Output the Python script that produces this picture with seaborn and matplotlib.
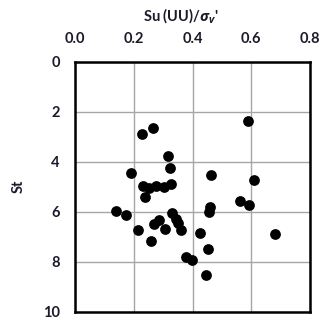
import matplotlib
matplotlib.use("Agg")
import matplotlib.pyplot as plt
import seaborn as sns
import pandas as pd

# Su(UU)/sigma_v' vs sensitivity St
su_ratio = [0.590, 0.228, 0.264, 0.315, 0.322, 0.192, 0.464, 0.610, 0.230, 0.253,
            0.275, 0.303, 0.326, 0.238, 0.560, 0.592, 0.458, 0.455, 0.138, 0.174,
            0.331, 0.343, 0.352, 0.362, 0.287, 0.270, 0.307, 0.215, 0.426, 0.681,
            0.260, 0.452, 0.376, 0.399, 0.447]
st = [2.36, 2.89, 2.65, 3.76, 4.25, 4.45, 4.52, 4.72, 4.96, 5.07,
      4.99, 5.00, 4.89, 5.40, 5.56, 5.72, 5.83, 6.03, 5.96, 6.13,
      6.07, 6.29, 6.47, 6.72, 6.32, 6.49, 6.69, 6.72, 6.87, 6.89,
      7.19, 7.49, 7.80, 7.93, 8.52]

x_ticks = [0.0, 0.2, 0.4, 0.6, 0.8]
y_ticks = [0, 2, 4, 6, 8, 10]

df = pd.DataFrame({"su": su_ratio, "st": st})

sns.set_style("whitegrid")
plt.rcParams["font.family"] = ["Lato", "Open Sans", "DejaVu Sans"]
plt.rcParams["mathtext.fontset"] = "custom"
plt.rcParams["mathtext.it"] = "Open Sans:italic:bold"
plt.rcParams["mathtext.rm"] = "Lato:bold"

txt = "#1a1a2a"

fig = plt.figure(figsize=(3.32, 3.20), dpi=100)
ax = fig.add_axes([0.226, 0.026, 0.708, 0.781])

sns.scatterplot(data=df, x="su", y="st", ax=ax, color="black", s=60,
                edgecolor="black", linewidth=0, zorder=3)

ax.set_xlim(0, 0.8)
ax.set_ylim(10, 0)
ax.set_xticks(x_ticks)
ax.set_yticks(y_ticks)
ax.set_xticklabels([f"{v:.1f}" for v in x_ticks])
ax.set_yticklabels([str(v) for v in y_ticks])

ax.xaxis.tick_top()
ax.xaxis.set_label_position("top")
ax.tick_params(axis="both", labelsize=10.5, labelcolor=txt, colors="black",
               direction="in", length=4, width=1, pad=11)
ax.tick_params(axis="x", length=0)
for lab in ax.get_xticklabels() + ax.get_yticklabels():
    lab.set_fontweight("bold")

ax.grid(True, color="#a6a6a6", linewidth=1.0)
for sp in ax.spines.values():
    sp.set_visible(True)
    sp.set_color("black")
    sp.set_linewidth(1.8)

ax.set_xlabel(r"Su (UU)/$\sigma_v$'", fontsize=10.5, fontweight="bold",
              color=txt)
ax.xaxis.set_label_coords(0.45, 1.165)
ax.set_ylabel("St", fontsize=10.5, fontweight="bold", color=txt)
ax.yaxis.set_label_coords(-0.21, 0.5)

fig.savefig("out.png", dpi=100)
